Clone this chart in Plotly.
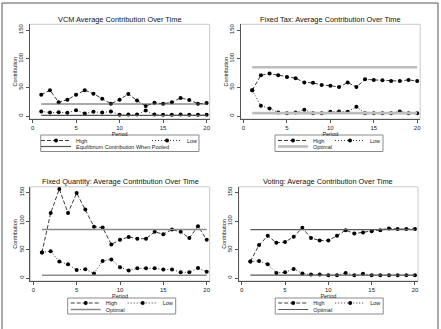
import plotly.graph_objects as go

# ---------------- data ----------------
PERIODS = list(range(1, 21))
X_TICKS = [0, 5, 10, 15, 20]
Y_TICKS = [0, 50, 100, 150]

TITLES = [
    "VCM Average Contribution Over Time",
    "Fixed Tax: Average Contribution Over Time",
    "Fixed Quantity: Average Contribution Over Time",
    "Voting: Average Contribution Over Time",
]
SERIES_NAMES = ["High", "Low"]
REF_NAMES = ["Equilibrium Contribution When Pooled", "Optimal", "Optimal", "Optimal"]

VCM_HIGH = [37, 45, 24, 28.5, 37, 45, 39, 30, 21.5, 28.5, 38.5, 27, 17.5, 23, 21.5, 24, 31.5, 28, 21.5, 22.5]
VCM_LOW = [8, 6, 6.5, 5.5, 10, 4.5, 7.5, 6, 8, 2, 2.5, 2.5, 9.5, 2.5, 2, 2, 2.5, 2, 2, 2]
VCM_REF = [21, 1]

TAX_HIGH = [45, 71, 74, 71, 68, 66, 58.5, 58, 54, 53, 50.5, 58.5, 50.5, 64, 63, 62.5, 61, 61, 63, 61]
TAX_LOW = [45, 18, 13, 6, 5, 6, 11, 5, 5, 7.5, 8, 7.5, 16, 5, 5, 5, 5, 8, 5, 5]
TAX_REF = [85, 5]

QTY_HIGH = [45, 114, 156, 114, 149, 120, 90, 88.5, 59, 67, 72, 69, 69, 81, 77, 85, 81, 70, 91, 67]
QTY_LOW = [45, 47, 29, 24, 14, 15.5, 8, 30, 32.5, 19, 13, 17, 17, 17, 15, 15, 10, 10, 17.5, 11]
QTY_REF = [85, 5]

VOTE_HIGH = [29, 58, 74, 62, 63, 72.5, 88, 70, 66, 66, 74, 84, 78, 80, 82, 84, 87, 86, 86, 86]
VOTE_LOW = [29, 30, 24, 9, 10, 16, 8, 6, 6, 5, 5, 9, 5, 7.5, 5, 5, 5, 5, 5, 5]
VOTE_REF = [85, 5]

HIGHS = [VCM_HIGH, TAX_HIGH, QTY_HIGH, VOTE_HIGH]
LOWS = [VCM_LOW, TAX_LOW, QTY_LOW, VOTE_LOW]
REFS = [VCM_REF, TAX_REF, QTY_REF, VOTE_REF]

# ---------------- layout (pixels) ----------------
W, H = 441, 329
FONT = "Liberation Sans, Arial, Helvetica, sans-serif"
# plot boxes: x0, x1, ytop, ybottom
BOXES = [
    (29.5, 209.7, 24.3, 119.0),
    (240.5, 420.2, 24.3, 119.0),
    (30.3, 209.7, 186.8, 281.0),
    (238.7, 418.0, 186.8, 281.0),
]
TITLE_Y = [19.3, 19.3, 181.0, 181.0]
# legend: left of items, entry width, row1 y, row2 y, box (x0,x1,y0,y1)
LEGENDS = [
    (36.0, 66, 140.5, 146.5, (40.7, 199.0, 135.0, 151.5)),
    (273.0, 12, 140.5, 146.5, (275.0, 383.0, 135.0, 151.5)),
    (65.7, 12, 303.0, 309.5, (67.7, 175.7, 298.0, 314.0)),
    (273.2, 12, 303.0, 309.5, (275.2, 383.2, 298.0, 314.0)),
]
REF_STYLE = [
    dict(color="#555555", width=1.2),
    dict(color="#bdbdbd", width=2.6),
    dict(color="#8c8c8c", width=1.4),
    dict(color="#5a5a5a", width=1.2),
]
X_RANGE = [-0.35, 20.35]
Y_RANGE = [-5.2, 160]


def fx(p):
    return p / W


def fy(p):
    return 1 - p / H


fig = go.Figure()
layout = dict(
    width=W, height=H, margin=dict(l=0, r=0, t=0, b=0),
    paper_bgcolor="white", plot_bgcolor="white",
    font=dict(family=FONT, color="#222"),
    showlegend=True, shapes=[], annotations=[],
)

for i in range(4):
    k = i + 1
    xa = "x" if k == 1 else f"x{k}"
    ya = "y" if k == 1 else f"y{k}"
    l1n = 2 * k - 1
    l2n = 2 * k
    leg1 = "legend" if l1n == 1 else f"legend{l1n}"
    leg2 = f"legend{l2n}"

    fig.add_trace(go.Scatter(
        x=PERIODS, y=HIGHS[i], mode="lines+markers", name=SERIES_NAMES[0],
        line=dict(color="#3c3c3c", width=1, dash="4px,2px"),
        marker=dict(color="black", size=4, symbol="circle"),
        xaxis=xa, yaxis=ya, legend=leg1))
    fig.add_trace(go.Scatter(
        x=PERIODS, y=LOWS[i], mode="lines+markers", name=SERIES_NAMES[1],
        line=dict(color="#3c3c3c", width=1, dash="1px,2px"),
        marker=dict(color="black", size=4, symbol="circle"),
        xaxis=xa, yaxis=ya, legend=leg1))
    rx = PERIODS + [None] + PERIODS
    ry = [REFS[i][0]] * len(PERIODS) + [None] + [REFS[i][1]] * len(PERIODS)
    fig.add_trace(go.Scatter(
        x=rx, y=ry, mode="lines", name=REF_NAMES[i], line=REF_STYLE[i],
        xaxis=xa, yaxis=ya, legend=leg2))

    bx0, bx1, bt, bb = BOXES[i]
    axis_common = dict(
        showgrid=False, zeroline=False, showline=True, linecolor="#555",
        linewidth=1, ticks="outside", ticklen=3, tickcolor="#555",
        tickfont=dict(size=6, family=FONT, color="#222"),
    )
    layout["xaxis" + ("" if k == 1 else str(k))] = dict(
        domain=[fx(bx0), fx(bx1)], range=X_RANGE, tickvals=X_TICKS,
        anchor=ya, title=dict(text="Period", font=dict(size=5.5), standoff=0),
        **axis_common)
    layout["yaxis" + ("" if k == 1 else str(k))] = dict(
        domain=[fy(bb), fy(bt)], range=Y_RANGE, tickvals=Y_TICKS, tickangle=-90,
        anchor=xa, title=dict(text="Contribution", font=dict(size=5.5), standoff=0),
        **axis_common)
    # light plot region outline
    layout["shapes"].append(dict(
        type="rect", xref=xa + " domain", yref=ya + " domain",
        x0=0, x1=1, y0=0, y1=1, line=dict(color="#c8c8c8", width=1), layer="below"))
    # title
    layout["annotations"].append(dict(
        text=TITLES[i], xref="paper", yref="paper",
        x=fx((bx0 + bx1) / 2), y=fy(TITLE_Y[i]), xanchor="center", yanchor="middle",
        showarrow=False, font=dict(size=7.4, family=FONT, color="#111")))
    # legends
    lx, ew, r1, r2, lb = LEGENDS[i]
    legcommon = dict(
        orientation="h", xanchor="left", yanchor="middle",
        bgcolor="rgba(0,0,0,0)", borderwidth=0,
        font=dict(size=5.5, family=FONT, color="#222"),
        itemwidth=30, tracegroupgap=0, itemclick=False, itemdoubleclick=False,
    )
    layout[leg1] = dict(x=fx(lx), y=fy(r1), entrywidth=ew, entrywidthmode="pixels", **legcommon)
    layout[leg2] = dict(x=fx(lx), y=fy(r2), entrywidth=0, **legcommon)
    layout["shapes"].append(dict(
        type="rect", xref="paper", yref="paper",
        x0=fx(lb[0]), x1=fx(lb[1]), y0=fy(lb[3]), y1=fy(lb[2]),
        line=dict(color="#8a8a8a", width=1)))

# outer frame
layout["shapes"].append(dict(
    type="rect", xref="paper", yref="paper",
    x0=fx(2), x1=fx(438), y0=fy(335), y1=fy(3),
    line=dict(color="#555", width=1)))

fig.update_layout(**layout)
fig.write_html("out.html")
